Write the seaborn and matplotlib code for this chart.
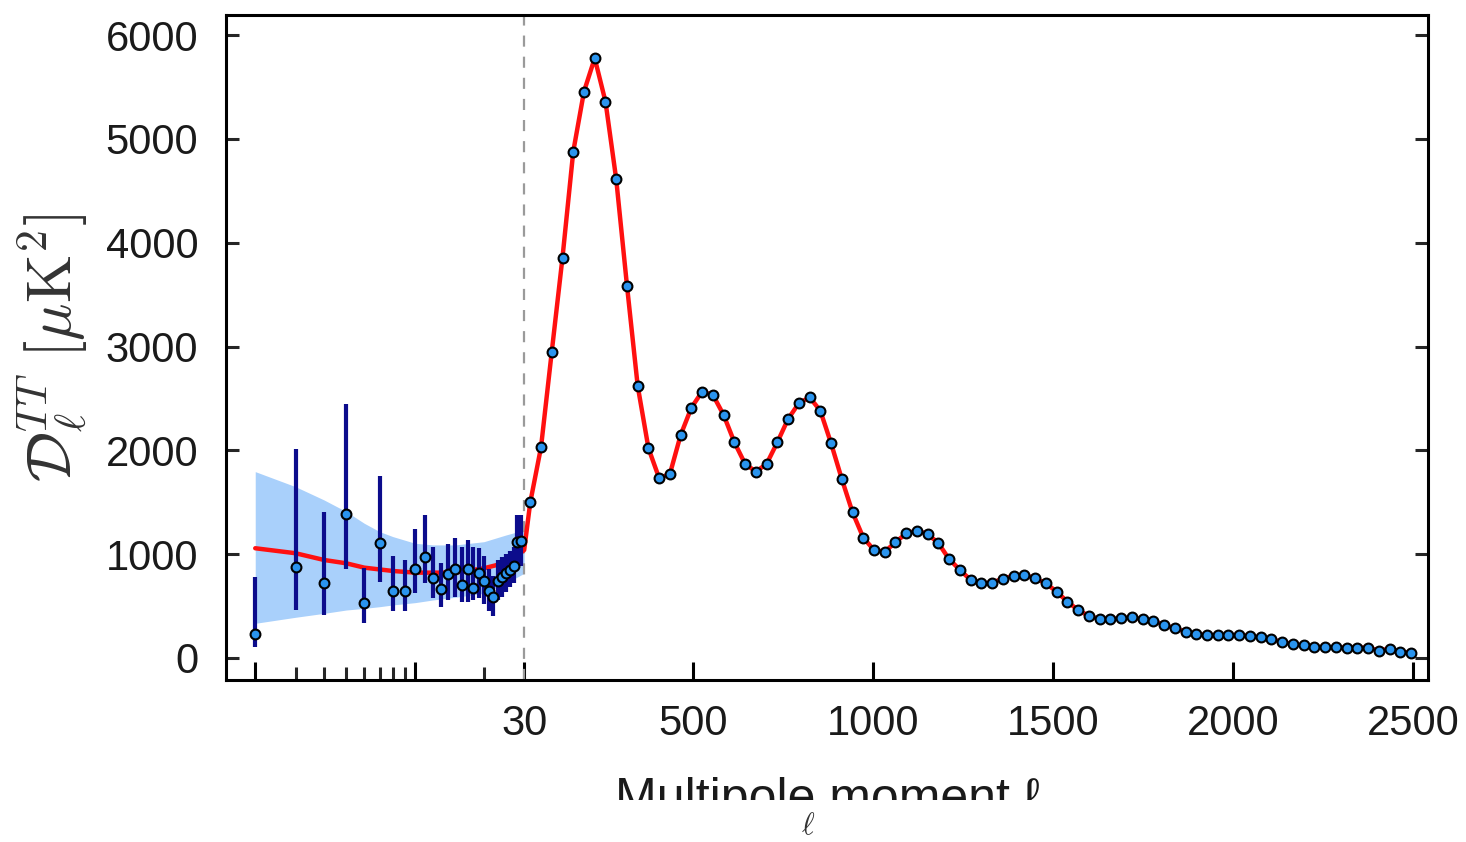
import numpy as np
import pandas as pd
import matplotlib
matplotlib.use("Agg")
import matplotlib.pyplot as plt
import seaborn as sns
from matplotlib.patches import Rectangle
from matplotlib.ticker import FixedLocator, FixedFormatter

# ---------------- data ----------------
# low-ell (2..29) unbinned points with asymmetric error bars
low_ell = [2, 3, 4, 5, 6, 7, 8, 9, 10, 11, 12, 13, 14, 15, 16, 17, 18, 19,
           20, 21, 22, 23, 24, 25, 26, 27, 28, 29]
low_dl = [231, 874, 720, 1384, 533, 1111, 645, 645, 857, 976, 768, 665, 813,
          861, 703, 861, 671, 816, 745, 649, 585, 745, 777, 816, 848, 890,
          1120, 1130]
low_err_lo = [109, 462, 414, 854, 340, 735, 453, 453, 623, 720, 575, 494, 559,
              591, 542, 542, 559, 578, 520, 450, 400, 560, 590, 640, 680, 720,
              880, 890]
low_err_hi = [783, 2013, 1410, 2444, 870, 1753, 983, 944, 1243, 1378, 1072,
              918, 1098, 1153, 1072, 1137, 1072, 1060, 980, 860, 790, 940, 970,
              1000, 1030, 1070, 1378, 1378]

# cosmic-variance band around the model at low ell
band_ell = [2, 3, 4, 5, 6, 7, 8, 10, 12, 15, 20, 25, 30]
band_lo = [334, 392, 430, 462, 478, 494, 511, 533, 559, 585, 623, 720, 816]
band_hi = [1795, 1650, 1522, 1410, 1297, 1217, 1169, 1105, 1089, 1089, 1120,
           1185, 1233]

# best-fit model at low ell
model_low_ell = [2, 3, 4, 5, 6, 8, 10, 15, 20, 25, 27, 30]
model_low_dl = [1057, 1009, 944, 912, 870, 838, 822, 822, 864, 918, 960, 1040]

# binned high-ell points (delta ell ~ 30)
hi_ell = list(np.round(np.linspace(47, 2494, 83), 1))
hi_dl = [1500, 2030, 2951, 3857, 4878, 5456, 5777, 5359, 4612, 3587, 2620,
         2020, 1731, 1773, 2148, 2411, 2566, 2534, 2341, 2078, 1869, 1795,
         1869, 2078, 2302, 2453, 2511, 2382, 2068, 1724, 1403, 1159, 1040,
         1024, 1114, 1201, 1227, 1194, 1105, 951, 848, 751, 719, 726, 764,
         793, 800, 768, 719, 639, 543, 462, 405, 376, 376, 382, 392, 373, 360,
         318, 286, 254, 231, 221, 221, 221, 221, 212, 199, 180, 154, 135, 122,
         109, 103, 103, 100, 100, 100, 71, 90, 61, 51]

xtick_pos = [2, 10, 30, 500, 1000, 1500, 2000, 2500]
xtick_lab = ["", "", "30", "500", "1000", "1500", "2000", "2500"]
xminor_pos = [3, 4, 5, 6, 7, 8, 9, 20]
ytick_pos = [0, 1000, 2000, 3000, 4000, 5000, 6000]

# ---------------- style ----------------
sns.set_theme(style="ticks")
plt.rcParams["font.family"] = ["Liberation Sans", "DejaVu Sans"]
plt.rcParams["mathtext.fontset"] = "cm"

RED = "#ff1010"
NAVY = "#0c0c8c"
BAND = "#a9d0fb"
MFACE = "#2a94ee"

LOG_PX, LIN_PX, SPLIT = 228.7, 0.36, 30.0


def fwd(l):
    l = np.asarray(l, dtype=float)
    ls = np.clip(l, 1e-6, None)
    return np.where(l <= SPLIT, np.log10(ls / SPLIT) * LOG_PX / LIN_PX, l - SPLIT)


def inv(u):
    u = np.asarray(u, dtype=float)
    return np.where(u <= 0, SPLIT * 10 ** (np.minimum(u, 0) * LIN_PX / LOG_PX),
                    u + SPLIT)


fig = plt.figure(figsize=(14.66, 8.42), dpi=100)
ax = fig.add_axes([226 / 1466, 162 / 842, (1428 - 226) / 1466, (680 - 15) / 842])
ax.set_xscale("function", functions=(fwd, inv))
ax.set_xlim(1.49, 2541)
ax.set_ylim(-212, 6193)

# band
ax.fill_between(band_ell, band_lo, band_hi, color=BAND, lw=0, zorder=1)

# model line
model_df = pd.DataFrame({"ell": model_low_ell + hi_ell,
                         "dl": model_low_dl + hi_dl})
sns.lineplot(data=model_df, x="ell", y="dl", color=RED, lw=3.2, ax=ax,
             zorder=2, sort=True)

# error bars for low ell
yerr = [np.array(low_dl) - np.array(low_err_lo),
        np.array(low_err_hi) - np.array(low_dl)]
ax.errorbar(low_ell, low_dl, yerr=yerr, fmt="none", ecolor=NAVY, elinewidth=3.0,
            capsize=0, zorder=3)

# dashed separator
ax.axvline(30, color="#9a9a9a", lw=1.6, dashes=(5, 4.5), zorder=1.5)

# points
pts = pd.DataFrame({"ell": low_ell + hi_ell, "dl": low_dl + hi_dl})
sns.scatterplot(data=pts, x="ell", y="dl", s=50, color=MFACE, edgecolor="black",
                linewidth=1.5, ax=ax, zorder=4)

# ticks
ax.xaxis.set_major_locator(FixedLocator(xtick_pos))
ax.xaxis.set_major_formatter(FixedFormatter(xtick_lab))
ax.xaxis.set_minor_locator(FixedLocator(xminor_pos))
ax.xaxis.set_minor_formatter(FixedFormatter([""] * len(xminor_pos)))
ax.set_yticks(ytick_pos)
ax.set_yticklabels([str(v) for v in ytick_pos])

ax.tick_params(axis="x", which="major", direction="in", length=13, width=2.2,
               labelsize=30, pad=17, top=False, colors="black")
ax.tick_params(axis="x", which="minor", direction="in", length=9.5, width=2.2,
               top=False)
ax.tick_params(axis="y", which="both", direction="in", length=9.5, width=2.2,
               labelsize=30, pad=20, left=True, right=True)
for lab in ax.get_xticklabels() + ax.get_yticklabels():
    lab.set_color("#1a1a1a")

for sp in ax.spines.values():
    sp.set_linewidth(2.2)
    sp.set_color("black")
    sp.set_visible(True)

ax.set_xlabel("Multipole moment ℓ", fontsize=36, labelpad=24, color="#1a1a1a")
ax.set_ylabel(r"$\mathcal{D}_\ell^{TT}\ [\mu\mathrm{K}^2]$", fontsize=45,
              labelpad=12, color="#333333")

# clip the lower part of the x label as in the reference
fig.add_artist(Rectangle((0, 0), 1, 42 / 842, transform=fig.transFigure,
                         facecolor="white", edgecolor="none", zorder=10))
fig.text(808 / 1466, 1 - 826 / 842, r"$\ell$", fontsize=22, ha="center",
         va="center", color="#333333", zorder=11)

fig.savefig("out.png", dpi=100, facecolor="white")
